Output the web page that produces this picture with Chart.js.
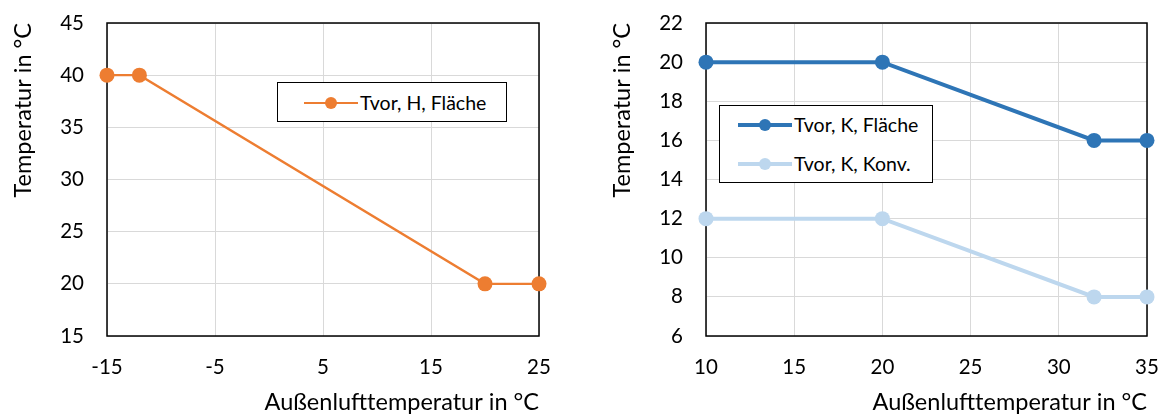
<!DOCTYPE html>
<html>
<head>
<meta charset="utf-8">
<script src="https://cdn.jsdelivr.net/npm/chart.js@4/dist/chart.umd.min.js"></script>
<style>
  body { margin: 0; background: #fff; font-family: Lato, sans-serif; }
  .wrap { position: absolute; top: 0; height: 417px; }
  .legend { position: absolute; border: 1.5px solid #000; background: #fff; box-sizing: border-box; }
  .row { position: absolute; left: 0; white-space: nowrap; font-size: 19.5px; color: #000; line-height: 20px; }
  .key { position: absolute; top: 10px; }
  .key i { position: absolute; left: 0; top: 0; display: block; }
  .key b { position: absolute; display: block; border-radius: 50%; }
</style>
</head>
<body>
<div class="wrap" id="w1" style="left:0;width:580px"><canvas id="c1" width="580" height="417"></canvas></div>
<div class="wrap" id="w2" style="left:580px;width:585px"><canvas id="c2" width="585" height="417"></canvas></div>
<script>
// heating chart (left)
var xHeat = [-15, -12, 20, 25];
var tHeat = [40, 40, 20, 20];
var xTicksHeat = [-15, -5, 5, 15, 25];
// cooling chart (right)
var xCool = [10, 20, 32, 35];
var tCoolFlaeche = [20, 20, 16, 16];
var tCoolKonv = [12, 12, 8, 8];
var xTicksCool = [10, 15, 20, 25, 30, 35];

var xTitle = "Außenlufttemperatur in °C";
var yTitle = "Temperatur in °C";

var orange = "#ED7D31", blue = "#2E75B6", lightBlue = "#BDD7EE";

function pts(xs, ys) {
  return xs.map(function(x, i) { return {x: x, y: ys[i]}; });
}

var frame = {
  id: 'frame',
  beforeDatasetsDraw: function(chart) {
    var a = chart.chartArea, ctx = chart.ctx;
    ctx.save();
    ctx.strokeStyle = '#000';
    ctx.lineWidth = 1.5;
    ctx.strokeRect(a.left, a.top, a.right - a.left, a.bottom - a.top);
    ctx.restore();
  }
};

function makeChart(id, datasets, xr, yr, pad, yWidth) {
  var tickFont = {family: 'Lato', size: 20.5};
  var titleFont = {family: 'Lato', size: 23.5};
  return new Chart(document.getElementById(id), {
    type: 'line',
    data: {datasets: datasets},
    options: {
      responsive: false,
      animation: false,
      layout: {padding: pad},
      plugins: {legend: {display: false}, tooltip: {enabled: false}},
      scales: {
        x: {
          type: 'linear', min: xr.min, max: xr.max,
          afterBuildTicks: function(axis) { axis.ticks = xr.ticks.map(function(v) { return {value: v}; }); },
          afterFit: function(axis) {
            axis.height = 81;
            // tick padding should not push the plot area inwards
            axis.paddingLeft = 5; axis.paddingRight = 5;
          },
          grid: {color: '#D9D9D9', lineWidth: 1, drawTicks: false},
          border: {display: false},
          ticks: {font: tickFont, color: '#000', padding: 19, maxRotation: 0, autoSkip: false},
          title: {display: true, text: xTitle, font: titleFont, color: '#000', align: 'end', padding: {top: 0, bottom: 0}}
        },
        y: {
          min: yr.min, max: yr.max,
          ticks: {stepSize: yr.step, font: tickFont, color: '#000', padding: 23},
          afterFit: function(axis) {
            axis.width = yWidth;
            axis.paddingTop = 5; axis.paddingBottom = 5;
          },
          grid: {color: '#D9D9D9', lineWidth: 1, drawTicks: false},
          border: {display: false},
          title: {display: true, text: yTitle, font: titleFont, color: '#000', align: 'end', padding: {top: 0, bottom: 0}}
        }
      }
    },
    plugins: [frame]
  });
}

function series(label, data, color, width) {
  return {
    label: label, data: data, borderColor: color, backgroundColor: color,
    borderWidth: width, pointRadius: 7.5, pointBorderWidth: 0, pointBackgroundColor: color,
    clip: false, tension: 0
  };
}

makeChart('c1',
  [series('Tvor, H, Fläche', pts(xHeat, tHeat), orange, 2.4)],
  {min: -15, max: 25, ticks: xTicksHeat},
  {min: 15, max: 45, step: 5},
  {top: 23, right: 41, bottom: 0, left: 9}, 98);

makeChart('c2',
  [series('Tvor, K, Fläche', pts(xCool, tCoolFlaeche), blue, 4),
   series('Tvor, K, Konv.', pts(xCool, tCoolKonv), lightBlue, 4)],
  {min: 10, max: 35, ticks: xTicksCool},
  {min: 6, max: 22, step: 2},
  {top: 23, right: 18, bottom: 0, left: 28}, 98);

function legend(wrap, box, items) {
  var el = document.createElement('div');
  el.className = 'legend';
  el.style.left = box.left + 'px'; el.style.top = box.top + 'px';
  el.style.width = box.w + 'px'; el.style.height = box.h + 'px';
  items.forEach(function(it, i) {
    var row = document.createElement('div');
    row.className = 'row';
    row.style.top = (box.rowTop + i * box.rowGap - 10) + 'px';
    row.style.left = box.keyLeft + 'px';
    var key = document.createElement('span');
    key.className = 'key';
    var line = document.createElement('i');
    line.style.width = '54px'; line.style.height = it.w + 'px';
    line.style.top = (-it.w / 2) + 'px'; line.style.background = it.color;
    var dot = document.createElement('b');
    dot.style.width = '12px'; dot.style.height = '12px';
    dot.style.left = '21px'; dot.style.top = '-6px'; dot.style.background = it.color;
    key.appendChild(line); key.appendChild(dot);
    var txt = document.createElement('span');
    txt.textContent = it.label;
    txt.style.marginLeft = '56px';
    row.appendChild(key); row.appendChild(txt);
    el.appendChild(row);
  });
  document.getElementById(wrap).appendChild(el);
}

legend('w1', {left: 277, top: 82, w: 230, h: 40, keyLeft: 26, rowTop: 20, rowGap: 0},
  [{label: 'Tvor, H, Fläche', color: orange, w: 2.5}]);
legend('w2', {left: 139, top: 105, w: 214, h: 78, keyLeft: 18, rowTop: 19, rowGap: 39},
  [{label: 'Tvor, K, Fläche', color: blue, w: 4}, {label: 'Tvor, K, Konv.', color: lightBlue, w: 4}]);
</script>
</body>
</html>
